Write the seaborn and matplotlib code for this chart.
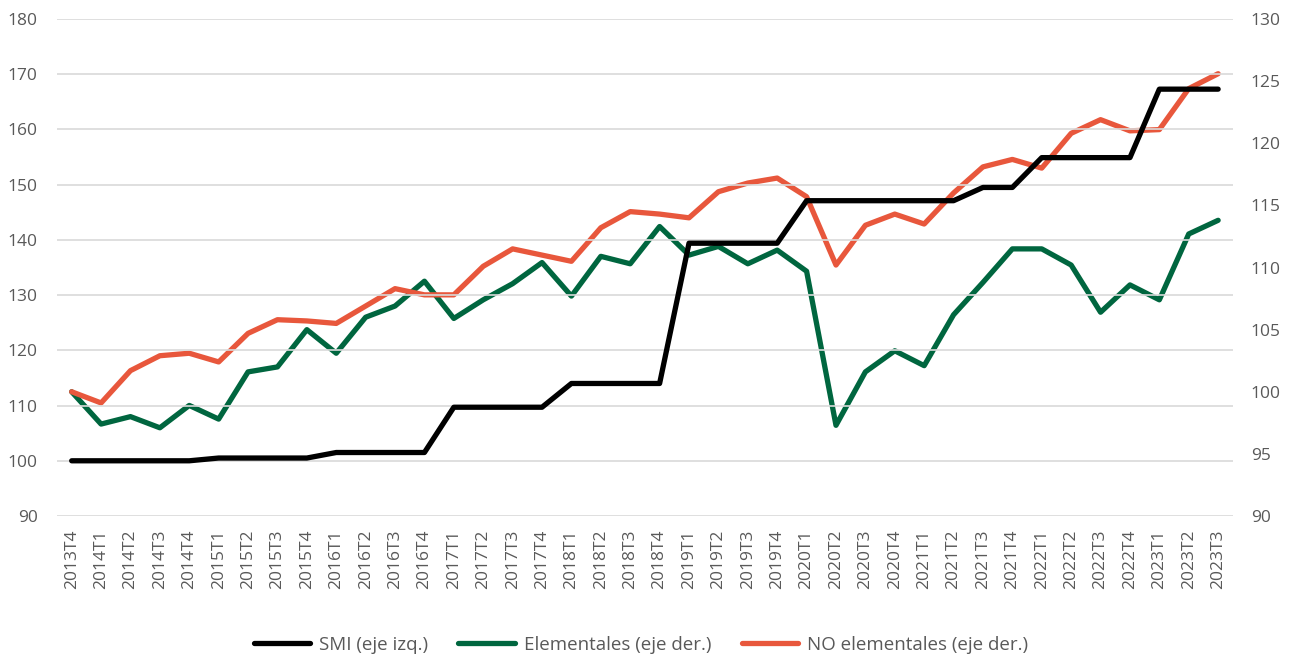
import matplotlib
matplotlib.use("Agg")
import matplotlib.pyplot as plt
import seaborn as sns
import pandas as pd
import numpy as np

categories = []
for y in range(2013, 2024):
    for q in range(1, 5):
        if (y == 2013 and q < 4) or (y == 2023 and q > 3):
            continue
        categories.append(f"{y}T{q}")

smi = [100.0, 100.0, 100.0, 100.0, 100.0,
       100.5, 100.5, 100.5, 100.5,
       101.5, 101.5, 101.5, 101.5,
       109.7, 109.7, 109.7, 109.7,
       114.0, 114.0, 114.0, 114.0,
       139.4, 139.4, 139.4, 139.4,
       147.1, 147.1, 147.1, 147.1,
       147.1, 147.1, 149.5, 149.5,
       154.9, 154.9, 154.9, 154.9,
       167.3, 167.3, 167.3]

elementales = [100.0, 97.4, 98.0, 97.1, 98.9,
               97.8, 101.6, 102.0, 105.0,
               103.1, 106.0, 106.9, 108.9,
               105.9, 107.4, 108.7, 110.4,
               107.7, 110.9, 110.3, 113.3,
               111.0, 111.7, 110.3, 111.4,
               109.7, 97.3, 101.6, 103.3,
               102.1, 106.2, 108.8, 111.5,
               111.5, 110.2, 106.4, 108.6,
               107.4, 112.7, 113.8]

no_elementales = [100.0, 99.1, 101.7, 102.9, 103.1,
                  102.4, 104.7, 105.8, 105.7,
                  105.5, 106.9, 108.3, 107.8,
                  107.8, 110.1, 111.5, 111.0,
                  110.5, 113.2, 114.5, 114.3,
                  114.0, 116.1, 116.8, 117.2,
                  115.7, 110.2, 113.4, 114.3,
                  113.5, 116.0, 118.1, 118.7,
                  118.0, 120.8, 121.9, 121.0,
                  121.1, 124.4, 125.6]

left_ticks = list(range(90, 181, 10))
right_ticks = list(range(90, 131, 5))

sns.set_style("white")
plt.rcParams['font.family'] = ['Open Sans', 'DejaVu Sans']

txt = "#595959"
c_smi = "#000000"
c_el = "#00663F"
c_no = "#E8573C"

df = pd.DataFrame({"x": np.arange(len(categories)), "smi": smi,
                   "el": elementales, "no": no_elementales})

fig = plt.figure(figsize=(12.95, 6.56), dpi=100)
ax = fig.add_axes([0.044, 0.2134, 0.908, 0.7576])
ax2 = ax.twinx()

lw = 3.8
sns.lineplot(data=df, x="x", y="el", ax=ax2, color=c_el, lw=lw,
             label="Elementales (eje der.)", legend=False, solid_capstyle="round")
sns.lineplot(data=df, x="x", y="no", ax=ax2, color=c_no, lw=lw,
             label="NO elementales (eje der.)", legend=False, solid_capstyle="round")
sns.lineplot(data=df, x="x", y="smi", ax=ax, color=c_smi, lw=lw,
             label="SMI (eje izq.)", legend=False, solid_capstyle="round")

ax.set_zorder(ax2.get_zorder() + 1)
ax.patch.set_visible(False)

ax.set_xlim(-0.5, len(categories) - 0.5)
ax.set_ylim(90, 180)
ax2.set_ylim(90, 130)
ax.set_yticks(left_ticks)
ax2.set_yticks(right_ticks)
ax.set_xticks(np.arange(len(categories)))
ax.set_xticklabels(categories, rotation=90, fontsize=12.5, color=txt)
ax.tick_params(axis="y", labelsize=12.5, colors=txt, length=0, pad=14)
ax2.tick_params(axis="y", labelsize=12.5, colors=txt, length=0, pad=13)
ax.tick_params(axis="x", length=0, pad=10)
ax.set_xlabel("")
ax.set_ylabel("")
ax2.set_ylabel("")

ax2.grid(False)
ax.yaxis.grid(True, color="#D9D9D9", lw=1.2)
ax.set_axisbelow(True)
for a in (ax, ax2):
    for s in a.spines.values():
        s.set_visible(False)

h1, l1 = ax.get_legend_handles_labels()
h2, l2 = ax2.get_legend_handles_labels()
leg = fig.legend(h1 + h2, l1 + l2, loc="center", bbox_to_anchor=(0.495, 0.017),
                 ncol=3, frameon=False, fontsize=13.5, handlelength=3.0,
                 handletextpad=0.5, columnspacing=1.6, labelcolor=txt)

fig.savefig("out.png", dpi=100)
